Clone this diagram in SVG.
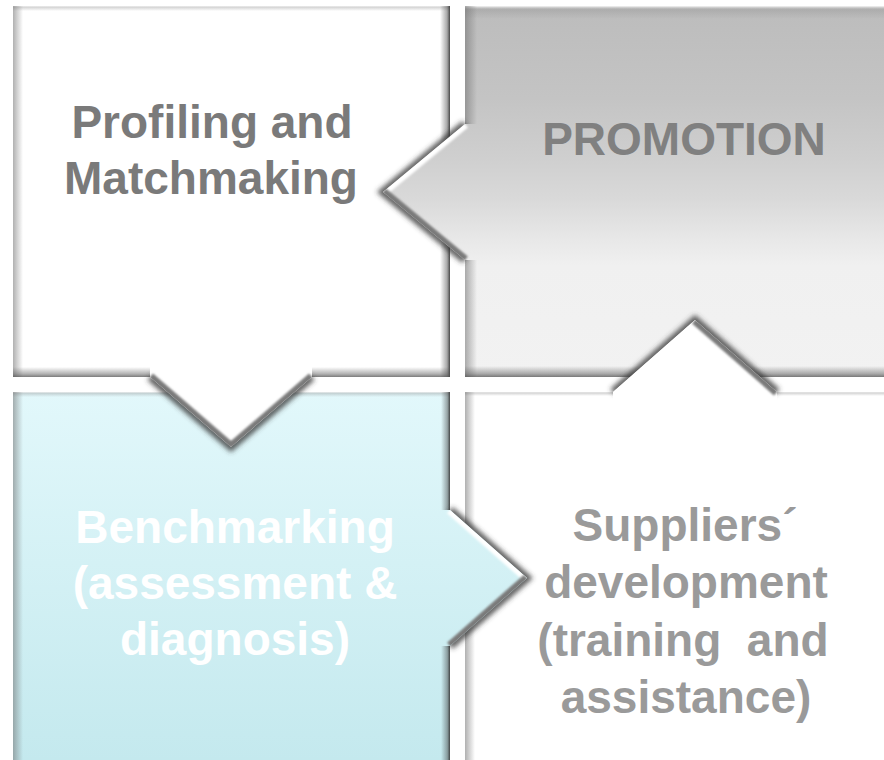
<svg xmlns="http://www.w3.org/2000/svg" width="884" height="760" viewBox="0 0 884 760">
  <defs>
    <linearGradient id="gTR" gradientUnits="userSpaceOnUse" x1="0" y1="6" x2="0" y2="377">
      <stop offset="0" stop-color="#bcbcbc"/>
      <stop offset="0.25" stop-color="#c4c4c4"/>
      <stop offset="0.41" stop-color="#cfcfcf"/>
      <stop offset="0.52" stop-color="#d9d9d9"/>
      <stop offset="0.63" stop-color="#e8e8e8"/>
      <stop offset="0.7" stop-color="#f0f0f0"/>
      <stop offset="1" stop-color="#f2f2f2"/>
    </linearGradient>
    <linearGradient id="gBL" gradientUnits="userSpaceOnUse" x1="0" y1="392" x2="0" y2="760">
      <stop offset="0" stop-color="#e2f8fb"/>
      <stop offset="1" stop-color="#c4e9ee"/>
    </linearGradient>
    <linearGradient id="bvLeft" x1="0" y1="0" x2="1" y2="0">
      <stop offset="0" stop-color="#707070" stop-opacity="0.55"/>
      <stop offset="1" stop-color="#707070" stop-opacity="0"/>
    </linearGradient>
    <linearGradient id="bvRight" x1="0" y1="0" x2="1" y2="0">
      <stop offset="0" stop-color="#404040" stop-opacity="0"/>
      <stop offset="0.7" stop-color="#404040" stop-opacity="0.45"/>
      <stop offset="1" stop-color="#303030" stop-opacity="0.9"/>
    </linearGradient>
    <linearGradient id="bvBottom" x1="0" y1="0" x2="0" y2="1">
      <stop offset="0" stop-color="#505050" stop-opacity="0"/>
      <stop offset="0.7" stop-color="#505050" stop-opacity="0.45"/>
      <stop offset="1" stop-color="#505050" stop-opacity="0.75"/>
    </linearGradient>
    <linearGradient id="bvTop" x1="0" y1="0" x2="0" y2="1">
      <stop offset="0" stop-color="#ffffff" stop-opacity="0.9"/>
      <stop offset="0.3" stop-color="#909090" stop-opacity="0.35"/>
      <stop offset="1" stop-color="#909090" stop-opacity="0"/>
    </linearGradient>
    <filter id="blur" x="-30%" y="-30%" width="160%" height="160%">
      <feGaussianBlur stdDeviation="2.5"/>
    </filter>
    <filter id="blurS" x="-30%" y="-30%" width="160%" height="160%">
      <feGaussianBlur stdDeviation="1.2"/>
    </filter>
    <clipPath id="cTR"><polygon points="383,192 465,124 482,124 482,260 465,260"/></clipPath>
    <clipPath id="cTL"><polygon points="231,447 150,377 150,365 312,365 312,377"/></clipPath>
    <clipPath id="cBL"><polygon points="527,578 450,646 437,646 437,510 450,510"/></clipPath>
    <clipPath id="cBR"><polygon points="695,320 777,392 777,405 613,405 613,392"/></clipPath>
  </defs>
  <style>
    text { font-family: "Liberation Sans", Arial, sans-serif; font-weight: bold; text-anchor: middle; }
    .t46 { font-size: 46px; }
    .shadow { fill: none; stroke: #3a3a3a; stroke-width: 8; stroke-opacity: 0.8; stroke-linejoin: miter; filter: url(#blur); }
    .hi { fill: none; stroke: #ffffff; stroke-width: 9; filter: url(#blurS); }
    .dk { fill: none; stroke: #7a7a7a; stroke-width: 9; filter: url(#blurS); }
    .bl { fill: url(#bvLeft); }
    .br { fill: url(#bvRight); }
    .bb { fill: url(#bvBottom); }
    .bt { fill: url(#bvTop); }
  </style>
  <rect width="884" height="760" fill="#ffffff"/>

  <g id="profiling">
    <rect x="13" y="6" width="437" height="371" fill="#ffffff"/>
    <rect class="bt" x="13" y="6" width="437" height="5"/>
    <rect class="bl" x="13" y="6" width="10" height="371"/>
    <rect class="br" x="440" y="6" width="10" height="371"/>
    <rect class="bb" x="13" y="367" width="437" height="10"/>
    <text class="t46" x="212" y="138" fill="#7a7a7a">Profiling and</text>
    <text class="t46" x="211" y="194" fill="#7a7a7a">Matchmaking</text>
  </g>

  <g id="promotion">
    <rect x="465" y="6" width="430" height="371" fill="url(#gTR)"/>
    <rect class="bt" x="465" y="6" width="430" height="13"/>
    <rect class="bl" x="465" y="6" width="12" height="371"/>
    <rect class="bb" x="465" y="366" width="430" height="11"/>
    <text class="t46" x="684" y="155" fill="#808080">PROMOTION</text>
  </g>

  <g id="benchmarking">
    <rect x="13" y="392" width="437" height="380" fill="url(#gBL)"/>
    <rect class="bt" x="13" y="392" width="437" height="5"/>
    <rect class="bl" x="13" y="392" width="10" height="380"/>
    <rect class="br" x="441" y="392" width="9" height="380"/>
    <text class="t46" x="235" y="543" fill="#ffffff">Benchmarking</text>
    <text class="t46" x="235" y="599" fill="#ffffff">(assessment &amp;</text>
    <text class="t46" x="235" y="655" fill="#ffffff">diagnosis)</text>
  </g>

  <g id="suppliers">
    <rect x="465" y="392" width="430" height="380" fill="#ffffff"/>
    <rect class="bt" x="465" y="392" width="430" height="4"/>
    <rect class="bl" x="465" y="392" width="10" height="380"/>
    <text class="t46" x="685" y="541" fill="#9a9a9a">Suppliers´</text>
    <text class="t46" x="686" y="598" fill="#9a9a9a">development</text>
    <text class="t46" x="683" y="656" fill="#9a9a9a" xml:space="preserve">(training  and</text>
    <text class="t46" x="686" y="713" fill="#9a9a9a">assistance)</text>
  </g>

  <g id="connectors">
    <g id="arrow-promotion">
      <polyline class="shadow" points="465,124 383,192 465,260"/>
      <polygon points="383,192 465,124 482,124 482,260 465,260" fill="url(#gTR)"/>
      <g clip-path="url(#cTR)">
        <line class="hi" x1="465" y1="124" x2="383" y2="192"/>
        <line class="dk" x1="383" y1="192" x2="465" y2="260"/>
      </g>
    </g>
    <g id="arrow-profiling">
      <polyline class="shadow" points="150,377 231,447 312,377"/>
      <polygon points="231,447 150,377 150,365 312,365 312,377" fill="#ffffff"/>
      <g clip-path="url(#cTL)">
        <line class="dk" x1="150" y1="377" x2="231" y2="447"/>
        <line class="dk" x1="231" y1="447" x2="312" y2="377"/>
      </g>
    </g>
    <g id="arrow-benchmarking">
      <polyline class="shadow" points="450,510 527,578 450,646"/>
      <polygon points="527,578 450,646 437,646 437,510 450,510" fill="url(#gBL)"/>
      <g clip-path="url(#cBL)">
        <line class="hi" x1="450" y1="510" x2="527" y2="578"/>
        <line class="dk" x1="527" y1="578" x2="450" y2="646"/>
      </g>
    </g>
    <g id="arrow-suppliers">
      <polyline class="shadow" points="613,392 695,320 777,392"/>
      <polygon points="695,320 777,392 777,405 613,405 613,392" fill="#ffffff"/>
      <g clip-path="url(#cBR)">
        <line class="hi" x1="613" y1="392" x2="695" y2="320"/>
        <line class="dk" x1="695" y1="320" x2="777" y2="392"/>
      </g>
    </g>
  </g>
</svg>
